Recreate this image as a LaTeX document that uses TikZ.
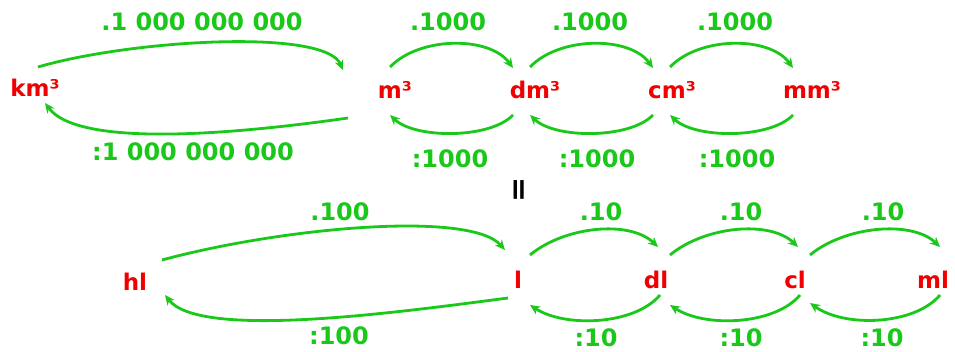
\documentclass[tikz,border=0pt]{standalone}
\usepackage{fontspec}
\setmainfont{DejaVu Sans}
\usetikzlibrary{calc,arrows.meta}
\definecolor{unitred}{RGB}{240,0,0}
\definecolor{arrgreen}{RGB}{25,200,25}
\begin{document}
\begin{tikzpicture}[x=1pt,y=-1pt,
  unit/.style={text=unitred,font=\fontsize{23}{23}\selectfont\bfseries,inner sep=0pt},
  lbl/.style={text=arrgreen,font=\fontsize{24}{24}\selectfont\bfseries,inner sep=0pt},
  eqs/.style={text=black,font=\fontsize{30}{30}\selectfont\bfseries,inner sep=0pt,rotate=90},
  arr/.style={draw=arrgreen,line width=2.8pt,-{Stealth[length=10pt,width=9pt]}}]
\useasboundingbox (0,0) rectangle (955,351);
% units row 1
\node[unit] (km) at (35,88) {km³};
\node[unit] (m)  at (395,90) {m³};
\node[unit] (dm) at (535,90) {dm³};
\node[unit] (cm) at (672,90) {cm³};
\node[unit] (mm) at (812,90) {mm³};
% units row 2
\node[unit] (hl) at (135,282) {hl};
\node[unit] (l)  at (518,280) {l};
\node[unit] (dl) at (656,280) {dl};
\node[unit] (cl) at (795,280) {cl};
\node[unit] (ml) at (933,280) {ml};
% equals
\node[eqs] (eq) at (521,190) {=};
% labels row 1
\node[lbl] (t1) at (202,22) {.1 000 000 000};
\node[lbl] (b1) at (193,152) {:1 000 000 000};
\node[lbl] (t2) at (448,22) {.1000};
\node[lbl] (t3) at (590,22) {.1000};
\node[lbl] (t4) at (735,22) {.1000};
\node[lbl] (b2) at (450,159) {:1000};
\node[lbl] (b3) at (597,159) {:1000};
\node[lbl] (b4) at (737,159) {:1000};
% labels row 2
\node[lbl] (t5) at (340,212) {.100};
\node[lbl] (b5) at (339,336) {:100};
\node[lbl] (t6) at (601,212) {.10};
\node[lbl] (t7) at (741,212) {.10};
\node[lbl] (t8) at (883,212) {.10};
\node[lbl] (b6) at (596,338) {:10};
\node[lbl] (b7) at (741,338) {:10};
\node[lbl] (b8) at (882,338) {:10};
% arrows row 1
\draw[arr] ($(km)+(3,-21)$) .. controls (130,40) and (325,28) .. ($(m)+(-52,-20)$);
\draw[arr] ($(m)+(-47,28)$) .. controls (250,132) and (80,150) .. ($(km)+(10,15)$);
\draw[arr] ($(m)+(-5,-23)$) .. controls (420,36) and (490,36) .. ($(dm)+(-22,-22)$);
\draw[arr] ($(dm)+(-22,25)$) .. controls (490,139) and (415,139) .. ($(m)+(-5,25)$);
\draw[arr] ($(dm)+(-5,-23)$) .. controls (560,36) and (630,36) .. ($(cm)+(-19,-22)$);
\draw[arr] ($(cm)+(-19,25)$) .. controls (630,139) and (555,139) .. ($(dm)+(-5,25)$);
\draw[arr] ($(cm)+(-2,-23)$) .. controls (700,36) and (770,36) .. ($(mm)+(-19,-22)$);
\draw[arr] ($(mm)+(-19,25)$) .. controls (770,139) and (695,139) .. ($(cm)+(-2,25)$);
% arrows row 2
\draw[arr] ($(hl)+(27,-22)$) .. controls (280,228) and (470,210) .. ($(l)+(-13,-30)$);
\draw[arr] ($(l)+(-10,18)$) .. controls (400,312) and (200,340) .. ($(hl)+(30,13)$);
\draw[arr] ($(l)+(12,-25)$) .. controls (565,226) and (630,220) .. ($(dl)+(2,-33)$);
\draw[arr] ($(dl)+(4,15)$) .. controls (635,325) and (565,328) .. ($(l)+(12,25)$);
\draw[arr] ($(dl)+(14,-25)$) .. controls (705,226) and (770,220) .. ($(cl)+(3,-33)$);
\draw[arr] ($(cl)+(5,15)$) .. controls (775,325) and (705,328) .. ($(dl)+(14,25)$);
\draw[arr] ($(cl)+(15,-25)$) .. controls (845,226) and (912,220) .. ($(ml)+(7,-33)$);
\draw[arr] ($(ml)+(7,15)$) .. controls (915,325) and (845,328) .. ($(cl)+(15,23)$);
\end{tikzpicture}
\end{document}
